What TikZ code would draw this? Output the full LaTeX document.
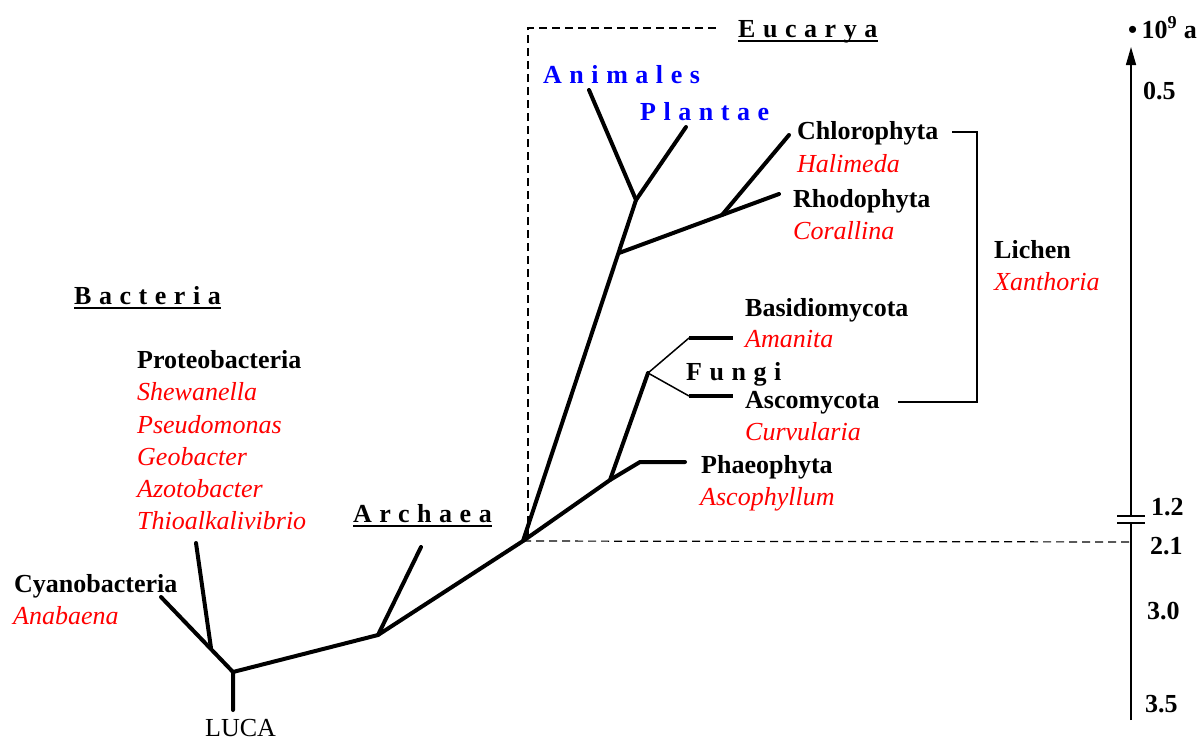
\documentclass[tikz,border=0pt]{standalone}
\usepackage{fontspec}
\setmainfont{Liberation Serif}
\usetikzlibrary{arrows.meta}
\definecolor{gred}{RGB}{255,0,0}
\definecolor{gblue}{RGB}{0,0,255}
\begin{document}
\begin{tikzpicture}[x=1pt,y=-1pt,
  lab/.style={inner sep=0pt, anchor=base west, font=\fontsize{26}{30}\selectfont},
  bold/.style={lab, font=\fontsize{26}{30}\selectfont\bfseries},
  gen/.style={lab, text=gred, font=\fontsize{26}{30}\selectfont\itshape},
  spaced/.style={lab, font=\fontsize{26}{30}\selectfont\addfontfeature{LetterSpace=29}\bfseries},
  kingdom/.style={spaced, text=gblue},
  tree/.style={line width=4pt, line cap=round, line join=round},
  thinline/.style={line width=1.5pt},
  dashline/.style={line width=1.2pt, dash pattern=on 8pt off 5pt},
  uline/.style={line width=2.5pt}
]
\useasboundingbox (0,0) rectangle (1204,742);

% tree coordinates
\coordinate (luca0) at (233,710);
\coordinate (r) at (233,672);
\coordinate (cy) at (161,597);
\coordinate (pj) at (211,648);
\coordinate (pt) at (196,543);
\coordinate (ar) at (378,635);
\coordinate (art) at (421,547);
\coordinate (eu) at (523,541);
\coordinate (e2) at (619,253);
\coordinate (ap) at (636,200);
\coordinate (ant) at (589,90);
\coordinate (plt) at (686,127);
\coordinate (rc) at (722,215);
\coordinate (rht) at (779,194);
\coordinate (cht) at (789,135);
\coordinate (ph) at (610,480);
\coordinate (phk) at (640,462);
\coordinate (pht) at (685,462);
\coordinate (fu) at (648,373);
\coordinate (b1) at (689,338);
\coordinate (b2) at (733,338);
\coordinate (a1) at (689,396);
\coordinate (a2) at (733,396);

% tree
\draw[tree] (luca0) -- (r) -- (cy);
\draw[tree] (pt) -- (pj);
\draw[tree] (r) -- (ar) -- (eu) -- (ap) -- (ant);
\draw[tree] (ar) -- (art);
\draw[tree] (ap) -- (plt);
\draw[tree] (e2) -- (rc) -- (rht);
\draw[tree] (rc) -- (cht);
\draw[tree] (eu) -- (ph) -- (fu);
\draw[tree] (ph) -- (phk) -- (pht);
\draw[thinline] (b1) -- (fu) -- (a1);
\draw[line width=4pt] (b1) -- (b2);
\draw[line width=4pt] (a1) -- (a2);

% dashed eukaryote box
\coordinate (dv) at (528,537);
\coordinate (dc) at (528,28);
\coordinate (de) at (718,28);
\coordinate (ax21) at (1131,542);
\draw[dashline] (dv) -- (dc) -- (de);
\draw[dashline] (eu) -- (ax21);

% time axis
\coordinate (axb) at (1131,720);
\coordinate (axt) at (1131,47);
\coordinate (brk1) at (1131,516);
\coordinate (brk2) at (1131,523);
\coordinate (bl1) at (1117,516);
\coordinate (br1) at (1145,516);
\coordinate (bl2) at (1117,523);
\coordinate (br2) at (1145,523);
\draw[thinline] (axb) -- (brk2);
\draw[thinline, -{Triangle[length=18pt,width=10pt]}] (brk1) -- (axt);
\draw[thinline] (bl1) -- (br1);
\draw[thinline] (bl2) -- (br2);
\node[bold] (unit) at (1128,38) {•\,10\textsuperscript{9} a};
\node[bold] (t05) at (1143,99) {0.5};
\node[bold] (t12) at (1151,515) {1.2};
\node[bold] (t21) at (1150,554) {2.1};
\node[bold] (t30) at (1147,619) {3.0};
\node[bold] (t35) at (1145,712) {3.5};

% lichen bracket
\coordinate (lb1) at (952,132);
\coordinate (lb2) at (977,132);
\coordinate (lb3) at (977,402);
\coordinate (lb4) at (898,402);
\draw[thinline] (lb1) -- (lb2) -- (lb3) -- (lb4);

% domain titles
\node[spaced] (bac) at (74,304) {Bacteria};
\node[spaced] (arc) at (353,522) {Archaea};
\node[spaced] (euc) at (738,37) {Eucarya};
\draw[uline] ([yshift=-4pt]bac.base west) -- ([yshift=-4pt]bac.base east);
\draw[uline] ([yshift=-4pt]arc.base west) -- ([yshift=-4pt]arc.base east);
\draw[uline] ([yshift=-4pt]euc.base west) -- ([yshift=-4pt]euc.base east);

% bacteria labels
\node[bold] (prot) at (137,368) {Proteobacteria};
\node[gen] (shew) at (137,400) {Shewanella};
\node[gen] (pseu) at (137,433) {Pseudomonas};
\node[gen] (geob) at (137,465) {Geobacter};
\node[gen] (azot) at (137,497) {Azotobacter};
\node[gen] (thio) at (137,529) {Thioalkalivibrio};
\node[bold] (cyan) at (14,592) {Cyanobacteria};
\node[gen] (anab) at (13,624) {Anabaena};
\node[lab] (luca) at (205,736) {LUCA};

% eukaryote labels
\node[kingdom] (anim) at (543,83) {Animales};
\node[kingdom] (plan) at (640,120) {Plantae};
\node[bold] (chlo) at (797,139) {Chlorophyta};
\node[gen] (hali) at (797,172) {Halimeda};
\node[bold] (rhod) at (793,207) {Rhodophyta};
\node[gen] (cora) at (793,239) {Corallina};
\node[bold] (lich) at (994,258) {Lichen};
\node[gen] (xant) at (994,290) {Xanthoria};
\node[bold] (basi) at (745,316) {Basidiomycota};
\node[gen] (aman) at (745,347) {Amanita};
\node[spaced] (fung) at (686,380) {Fungi};
\node[bold] (asco) at (745,408) {Ascomycota};
\node[gen] (curv) at (745,440) {Curvularia};
\node[bold] (phae) at (701,473) {Phaeophyta};
\node[gen] (ascp) at (700,505) {Ascophyllum};
\end{tikzpicture}
\end{document}
